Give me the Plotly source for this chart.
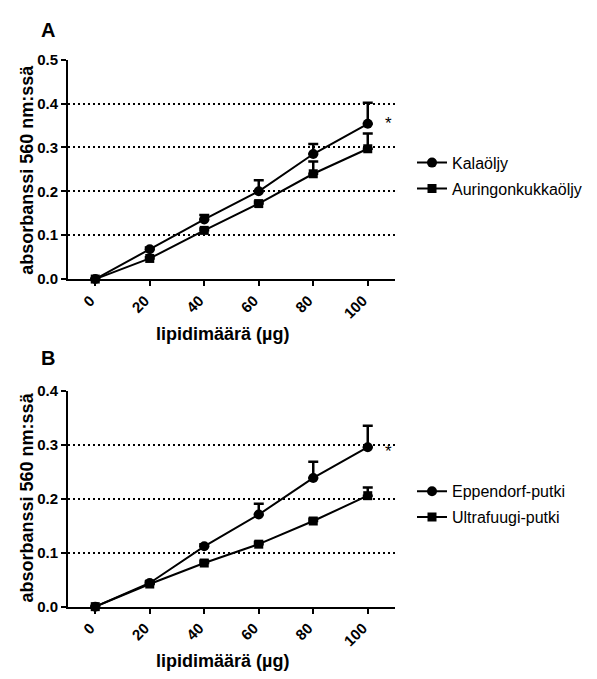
import plotly.graph_objects as go

x_vals = [0, 20, 40, 60, 80, 100]
x_ticks = ["0", "20", "40", "60", "80", "100"]

# Panel A
kala = [0.0, 0.068, 0.136, 0.200, 0.285, 0.354]
kala_err = [0.0, 0.004, 0.010, 0.025, 0.023, 0.048]
aur = [0.0, 0.047, 0.111, 0.172, 0.240, 0.297]
aur_err = [0.0, 0.003, 0.004, 0.005, 0.028, 0.035]

# Panel B
epp = [0.0, 0.044, 0.112, 0.171, 0.239, 0.296]
epp_err = [0.0, 0.003, 0.004, 0.020, 0.030, 0.040]
ultra = [0.0, 0.042, 0.081, 0.116, 0.159, 0.206]
ultra_err = [0.0, 0.003, 0.004, 0.004, 0.004, 0.015]

FONT = "Arial, Liberation Sans, sans-serif"
W, H = 597, 679


def px_x(p):
    return p / W


def px_y(p):
    return 1 - p / H


fig = go.Figure()


def add_series(y, err, name, symbol, size, xa, ya, legend):
    fig.add_trace(go.Scatter(
        x=x_vals, y=y, name=name, mode="lines+markers",
        line=dict(color="black", width=2),
        marker=dict(symbol=symbol, size=size, color="black"),
        error_y=dict(type="data", array=err, arrayminus=[0] * len(err),
                     symmetric=False, color="black", thickness=2.5, width=5),
        xaxis=xa, yaxis=ya, legend=legend, legendgroup=name, cliponaxis=False,
    ))


add_series(kala, kala_err, "Kalaöljy", "circle", 10, "x", "y", "legend")
add_series(aur, aur_err, "Auringonkukkaöljy", "square", 9, "x", "y", "legend")
add_series(epp, epp_err, "Eppendorf-putki", "circle", 10, "x2", "y2", "legend2")
add_series(ultra, ultra_err, "Ultrafuugi-putki", "square", 9, "x2", "y2", "legend2")

xdom = [px_x(68), px_x(395)]
xcommon = dict(
    range=[-10, 110], tickvals=x_vals, ticktext=x_ticks, tickangle=-45,
    showline=True, linecolor="black", linewidth=2, ticks="outside",
    ticklen=5, tickwidth=2, tickcolor="black", showgrid=False, zeroline=False,
    tickfont=dict(family=FONT, size=15, color="black", weight="bold"),
    ticklabelshift=-5,
    domain=xdom,
)
ycommon = dict(
    showline=True, linecolor="black", linewidth=2, ticks="outside",
    ticklen=5, tickwidth=2, tickcolor="black", zeroline=False,
    showgrid=True, gridcolor="black", gridwidth=2, griddash="2px,3px",
    tickformat=".1f", dtick=0.1,
    tickfont=dict(family=FONT, size=15, color="black", weight="bold"),
)

legend_common = dict(xanchor="left", yanchor="middle",
                     font=dict(family=FONT, size=16, color="black"),
                     bgcolor="rgba(0,0,0,0)", itemwidth=30, tracegroupgap=2)

fig.update_layout(
    width=W, height=H, margin=dict(l=0, r=0, t=0, b=0),
    paper_bgcolor="white", plot_bgcolor="white",
    showlegend=True,
    xaxis=dict(**xcommon, anchor="y"),
    yaxis=dict(**ycommon, range=[0, 0.5], anchor="x",
               domain=[px_y(277), px_y(52)]),
    xaxis2=dict(**xcommon, anchor="y2"),
    yaxis2=dict(**ycommon, range=[0, 0.4], anchor="x2",
                domain=[px_y(613), px_y(392)]),
    legend=dict(x=px_x(412), y=px_y(171), **legend_common),
    legend2=dict(x=px_x(412), y=px_y(508), **legend_common),
)

annots = [
    dict(text="A", x=px_x(39), y=px_y(22), xanchor="left", yanchor="middle",
         font=dict(size=20, weight="bold")),
    dict(text="B", x=px_x(39), y=px_y(358), xanchor="left", yanchor="middle",
         font=dict(size=20, weight="bold")),
    dict(text="absorbanssi 560 nm:ssä", x=px_x(27), y=px_y(165), textangle=-90,
         xanchor="center", yanchor="middle", font=dict(size=18, weight="bold")),
    dict(text="absorbanssi 560 nm:ssä", x=px_x(27), y=px_y(501), textangle=-90,
         xanchor="center", yanchor="middle", font=dict(size=18, weight="bold")),
    dict(text="lipidimäärä (µg)", x=px_x(222), y=px_y(333),
         xanchor="center", yanchor="middle", font=dict(size=18, weight="bold")),
    dict(text="lipidimäärä (µg)", x=px_x(222), y=px_y(669),
         xanchor="center", yanchor="middle", font=dict(size=18, weight="bold")),
]
for a in annots:
    a["font"].update(family=FONT, color="black")
    fig.add_annotation(xref="paper", yref="paper", showarrow=False, **a)

fig.add_annotation(xref="x", yref="y", x=107.5, y=0.355, text="*", showarrow=False,
                   font=dict(family=FONT, size=17, color="black"))
fig.add_annotation(xref="x2", yref="y2", x=107.5, y=0.288, text="*", showarrow=False,
                   font=dict(family=FONT, size=17, color="black"))

fig.write_html("out.html")
